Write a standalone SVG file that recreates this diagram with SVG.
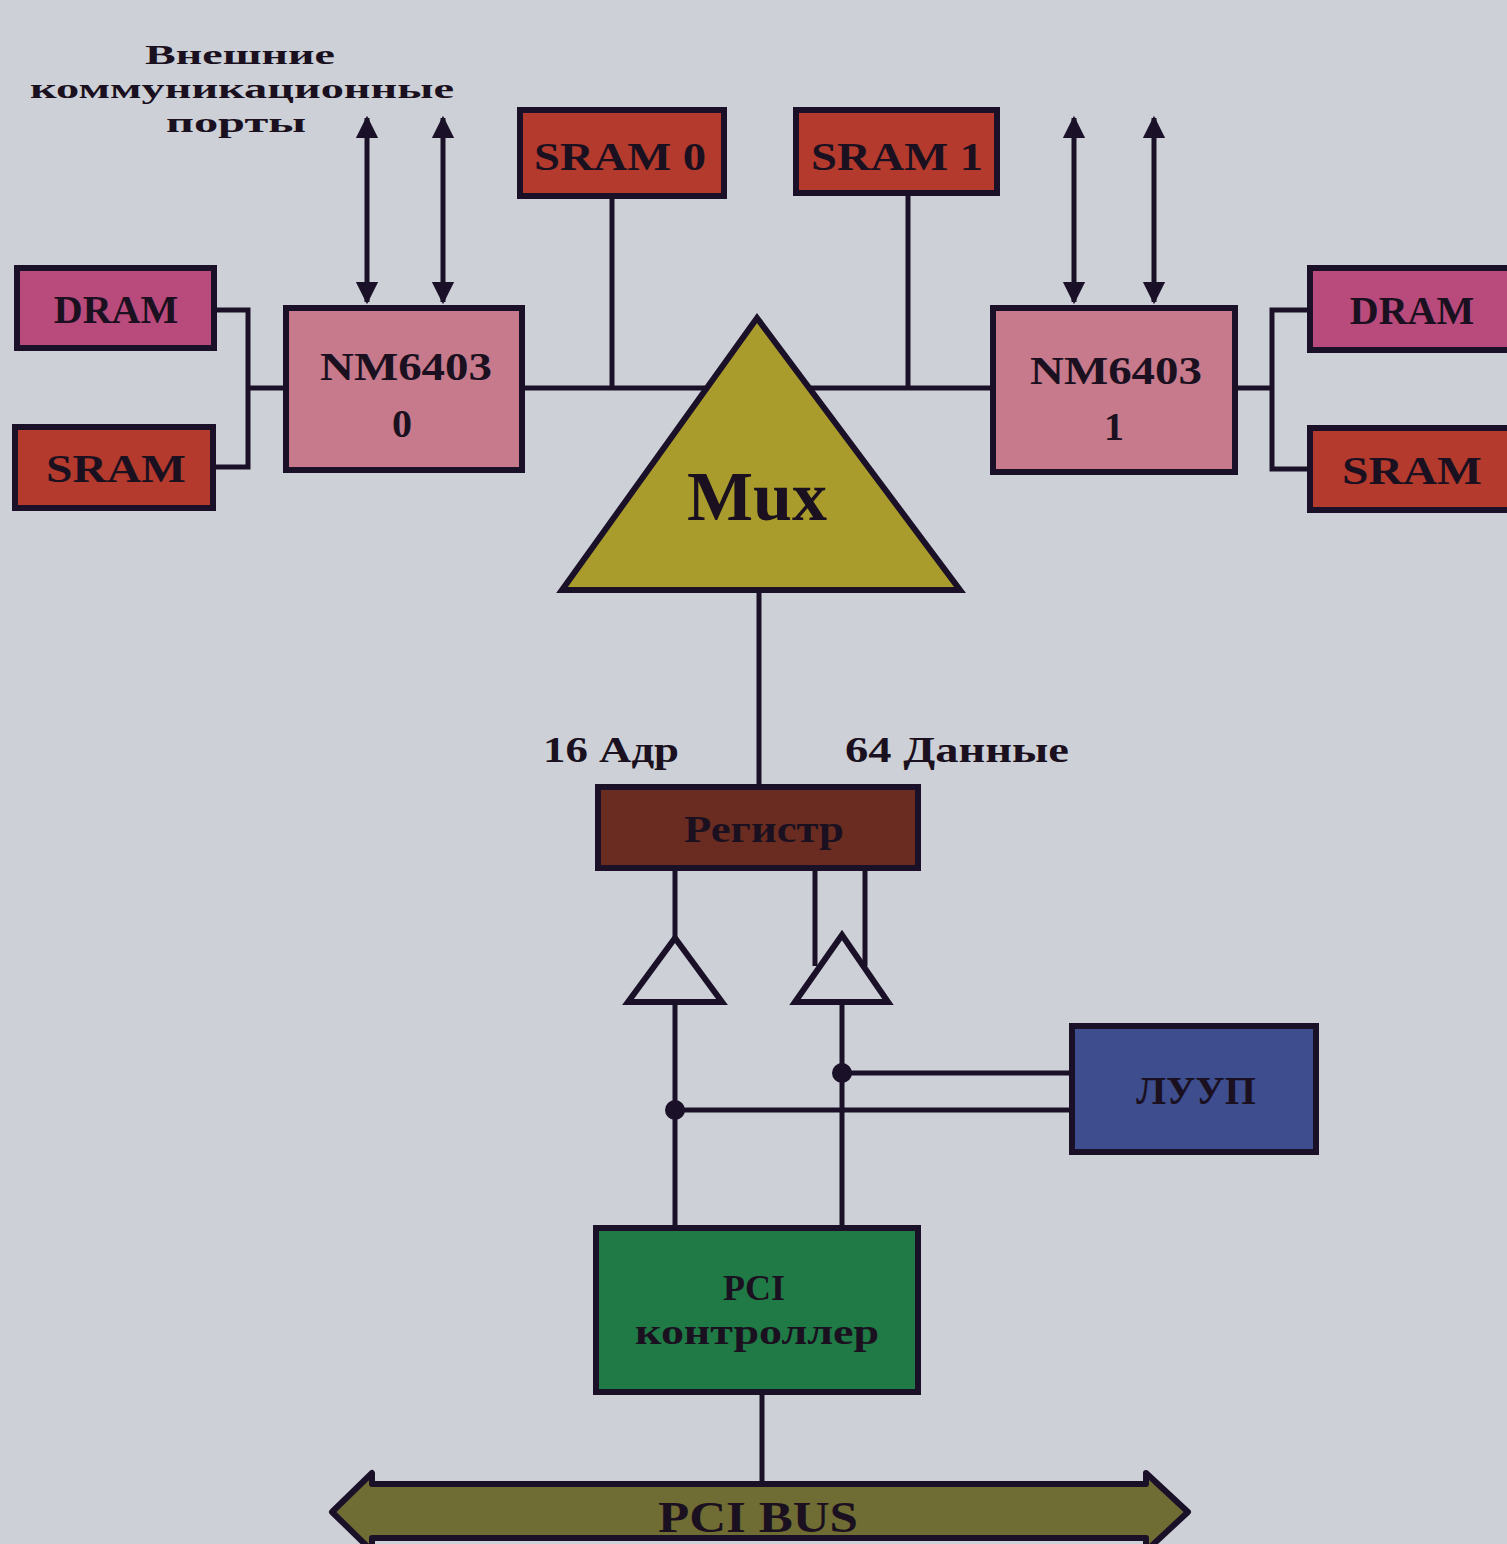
<svg xmlns="http://www.w3.org/2000/svg" width="1507" height="1544" viewBox="0 0 1507 1544">
<defs>
<style>
.box{stroke:#1a1028;stroke-width:6}
.ln{stroke:#1a1028;stroke-width:5;fill:none}
.t{font-family:"Liberation Serif","Times New Roman",serif;font-weight:bold;fill:#1a1020;text-anchor:middle}
</style>
<marker id="ah" viewBox="0 0 10 10" refX="9" refY="5" markerWidth="4.5" markerHeight="5" markerUnits="strokeWidth" orient="auto-start-reverse">
<path d="M0,0 L10,5 L0,10 z" fill="#1a1028"/>
</marker>
</defs>
<rect width="1507" height="1544" fill="#cdd0d6"/>

<g id="connectors">
<polyline class="ln" points="214,310 248,310 248,467 213,467"/>
<line class="ln" x1="248" y1="388" x2="286" y2="388"/>
<polyline class="ln" points="1310,310 1272,310 1272,469 1310,469"/>
<line class="ln" x1="1235" y1="388" x2="1272" y2="388"/>
<line class="ln" x1="522" y1="388" x2="705" y2="388"/>
<line class="ln" x1="810" y1="388" x2="993" y2="388"/>
<line class="ln" x1="612" y1="196" x2="612" y2="388"/>
<line class="ln" x1="908" y1="193" x2="908" y2="388"/>
<line class="ln" x1="367" y1="118" x2="367" y2="302" marker-start="url(#ah)" marker-end="url(#ah)"/>
<line class="ln" x1="443" y1="118" x2="443" y2="302" marker-start="url(#ah)" marker-end="url(#ah)"/>
<line class="ln" x1="1074" y1="118" x2="1074" y2="302" marker-start="url(#ah)" marker-end="url(#ah)"/>
<line class="ln" x1="1154" y1="118" x2="1154" y2="302" marker-start="url(#ah)" marker-end="url(#ah)"/>
<line class="ln" x1="759" y1="590" x2="759" y2="787"/>
<line class="ln" x1="675" y1="868" x2="675" y2="940"/>
<line class="ln" x1="815" y1="868" x2="815" y2="966"/>
<line class="ln" x1="865" y1="868" x2="865" y2="966"/>
<line class="ln" x1="675" y1="1002" x2="675" y2="1228"/>
<line class="ln" x1="842" y1="1002" x2="842" y2="1228"/>
<line class="ln" x1="842" y1="1073" x2="1072" y2="1073" stroke-width="7"/>
<line class="ln" x1="675" y1="1110" x2="1072" y2="1110" stroke-width="7"/>
<circle cx="842" cy="1073" r="10" fill="#1a1028"/>
<circle cx="675" cy="1110" r="10" fill="#1a1028"/>
<line class="ln" x1="762" y1="1392" x2="762" y2="1482"/>
<polygon points="628,1002 675,938 722,1002" fill="#cdd0d6" class="box" stroke-width="5"/>
<polygon points="795,1002 842,935 888,1002" fill="#cdd0d6" class="box" stroke-width="5"/>
</g>

<g id="label-ports">
<text class="t" x="240" y="64" font-size="28" textLength="190" lengthAdjust="spacingAndGlyphs">Внешние</text>
<text class="t" x="242" y="98" font-size="28" textLength="424" lengthAdjust="spacingAndGlyphs">коммуникационные</text>
<text class="t" x="236" y="132" font-size="28" textLength="140" lengthAdjust="spacingAndGlyphs">порты</text>
</g>

<g id="dram-left"><rect class="box" x="17" y="268" width="197" height="80" fill="#b84a7c"/><text class="t" x="116" y="323" font-size="40">DRAM</text></g>
<g id="sram-left"><rect class="box" x="15" y="427" width="198" height="81" fill="#b33a2c"/><text class="t" x="116" y="482" font-size="40" textLength="140" lengthAdjust="spacingAndGlyphs">SRAM</text></g>
<g id="nm0"><rect class="box" x="286" y="308" width="236" height="162" fill="#c67a8b"/><text class="t" x="406" y="380" font-size="40" textLength="172" lengthAdjust="spacingAndGlyphs">NM6403</text><text class="t" x="402" y="437" font-size="40">0</text></g>
<g id="sram0"><rect class="box" x="520" y="110" width="204" height="86" fill="#b33a2c"/><text class="t" x="620" y="170" font-size="40" textLength="172" lengthAdjust="spacingAndGlyphs">SRAM 0</text></g>
<g id="sram1"><rect class="box" x="796" y="110" width="201" height="83" fill="#b33a2c"/><text class="t" x="897" y="170" font-size="40" textLength="172" lengthAdjust="spacingAndGlyphs">SRAM 1</text></g>
<g id="nm1"><rect class="box" x="993" y="308" width="242" height="164" fill="#c67a8b"/><text class="t" x="1116" y="384" font-size="40" textLength="172" lengthAdjust="spacingAndGlyphs">NM6403</text><text class="t" x="1114" y="440" font-size="40">1</text></g>
<g id="dram-right"><rect class="box" x="1310" y="268" width="200" height="82" fill="#b84a7c"/><text class="t" x="1412" y="324" font-size="40">DRAM</text></g>
<g id="sram-right"><rect class="box" x="1310" y="428" width="200" height="82" fill="#b33a2c"/><text class="t" x="1412" y="484" font-size="40" textLength="140" lengthAdjust="spacingAndGlyphs">SRAM</text></g>
<g id="mux"><polygon class="box" points="757,318 960,590 562,590" fill="#a99b2c" stroke-linejoin="miter"/><text class="t" x="757" y="520" font-size="70">Mux</text></g>
<g id="label-adr"><text class="t" x="611" y="762" font-size="36" textLength="136" lengthAdjust="spacingAndGlyphs">16 Адр</text></g>
<g id="label-data"><text class="t" x="957" y="762" font-size="36" textLength="224" lengthAdjust="spacingAndGlyphs">64 Данные</text></g>
<g id="register"><rect class="box" x="598" y="787" width="320" height="81" fill="#6a2c20"/><text class="t" x="764" y="842" font-size="38" textLength="160" lengthAdjust="spacingAndGlyphs">Регистр</text></g>
<g id="luup"><rect class="box" x="1072" y="1026" width="244" height="126" fill="#3d4d8e"/><text class="t" x="1196" y="1104" font-size="40" fill="#1a1a30">ЛУУП</text></g>
<g id="pci-ctrl"><rect class="box" x="596" y="1228" width="322" height="164" fill="#1f7a46"/><text class="t" x="754" y="1300" font-size="36">PCI</text><text class="t" x="757" y="1344" font-size="36" textLength="244" lengthAdjust="spacingAndGlyphs">контроллер</text></g>
<g id="pci-bus"><polygon class="box" points="332,1512 372,1473 372,1484 1146,1484 1146,1473 1188,1512 1146,1551 1146,1538 372,1538 372,1551" fill="#6f6c34" stroke-linejoin="round"/><text class="t" x="758" y="1532" font-size="44" textLength="200" lengthAdjust="spacingAndGlyphs">PCI BUS</text></g>
</svg>
